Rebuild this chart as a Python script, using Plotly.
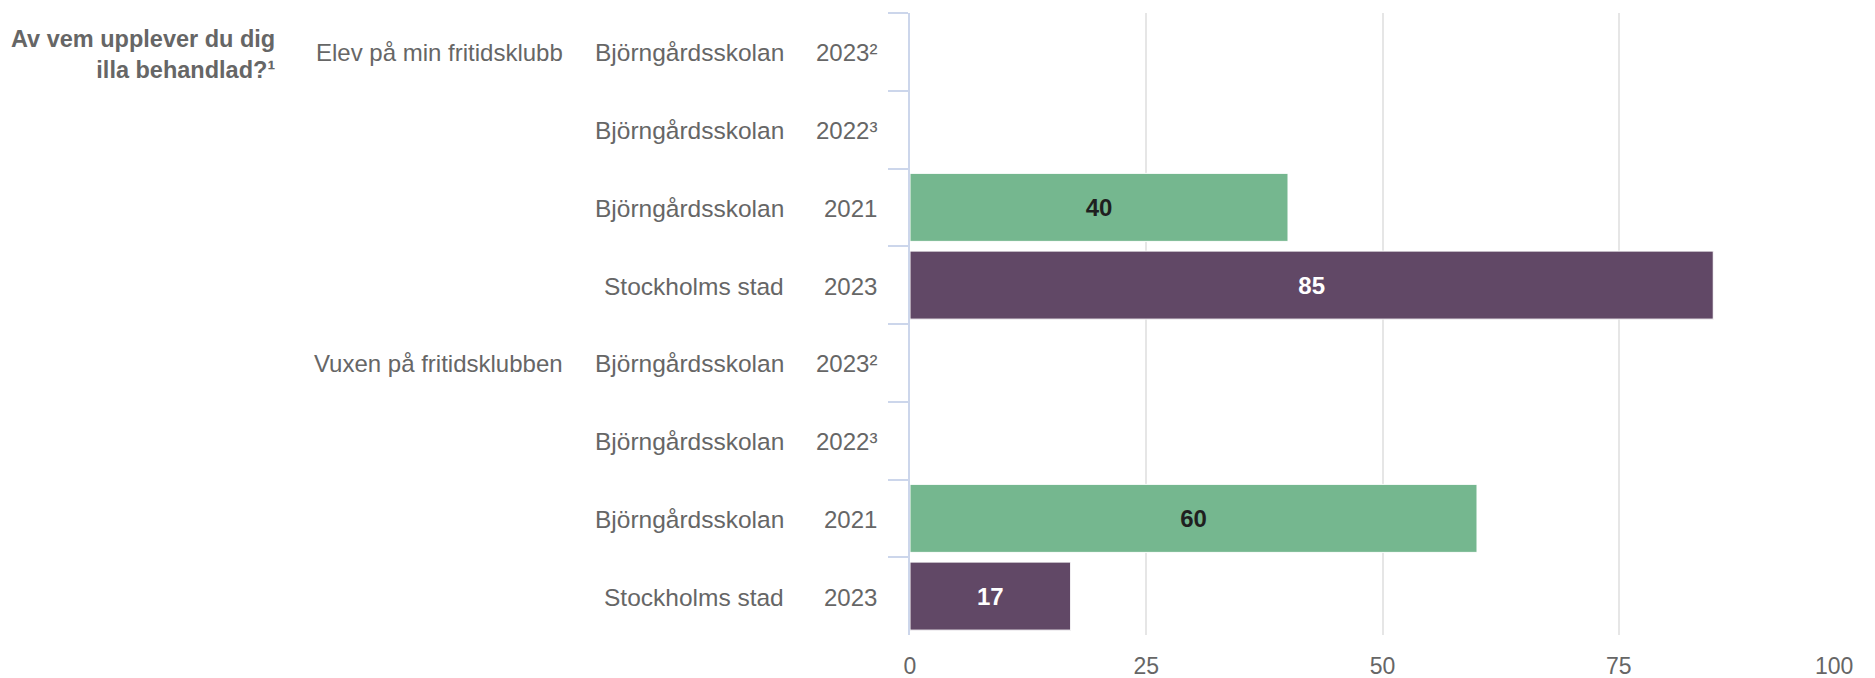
import plotly.graph_objects as go

# ---- data ----
question = "Av vem upplever du dig<br>illa behandlad?¹"
groups = ["Elev på min fritidsklubb", "Vuxen på fritidsklubben"]
units = ["Björngårdsskolan", "Björngårdsskolan", "Björngårdsskolan", "Stockholms stad"]
years = ["2023²", "2022³", "2021", "2023"]
values_elev = [None, None, 40, 85]
values_vuxen = [None, None, 60, 17]
x_ticks = [0, 25, 50, 75, 100]

GREEN = "#75b78f"
PURPLE = "#614866"
unit_colors = {"Björngårdsskolan": GREEN, "Stockholms stad": PURPLE}
text_colors = {"Björngårdsskolan": "#1f1f1f", "Stockholms stad": "#ffffff"}
LABEL = "#666666"
FONT = "Liberation Sans, Arial, Helvetica, sans-serif"

cats, vals, cols, tcols, rows = [], [], [], [], []
for g, gvals in zip(groups, [values_elev, values_vuxen]):
    for u, yr, v in zip(units, years, gvals):
        key = f"{g}|{u}|{yr}"
        cats.append(key)
        vals.append(v)
        cols.append(unit_colors[u])
        tcols.append(text_colors[u])
        rows.append((g, u, yr))

fig = go.Figure()
fig.add_trace(go.Bar(
    y=cats, x=vals, orientation="h",
    marker=dict(color=cols, line=dict(color="#ffffff", width=1)),
    text=[("" if v is None else str(v)) for v in vals],
    textposition="inside", insidetextanchor="middle",
    textfont=dict(color=tcols, size=24, family=FONT, weight="bold"),
    hoverinfo="skip", showlegend=False,
))

ann = []
seen_groups = set()
for i, (g, u, yr) in enumerate(rows):
    key = cats[i]
    ann.append(dict(x=0, xref="paper", y=key, yref="y", text=yr, showarrow=False,
                    xanchor="right", yanchor="middle", xshift=-31, yshift=-1,
                    font=dict(size=24, color=LABEL, family=FONT)))
    ann.append(dict(x=0, xref="paper", y=key, yref="y", text=u, showarrow=False,
                    xanchor="right", yanchor="middle", xshift=-124, yshift=-1,
                    font=dict(size=24.5, color=LABEL, family=FONT)))
    if g not in seen_groups:
        seen_groups.add(g)
        ann.append(dict(x=0, xref="paper", y=key, yref="y", text=g, showarrow=False,
                        xanchor="right", yanchor="middle", xshift=-345, yshift=-1,
                        font=dict(size=24, color=LABEL, family=FONT)))
ann.append(dict(x=0, xref="paper", y=cats[0], yref="y", text=question, showarrow=False,
                xanchor="right", yanchor="middle", align="right", xshift=-633, yshift=-3,
                font=dict(size=23.5, color=LABEL, family=FONT, weight="bold")))
# last x tick label, kept inside the chart edge
ann.append(dict(x=x_ticks[-1], xref="x", y=0, yref="paper", text=str(x_ticks[-1]),
                showarrow=False, xanchor="right", yanchor="middle", yshift=-31,
                font=dict(size=23, color=LABEL, family=FONT)))

fig.update_layout(
    width=1875, height=678,
    margin=dict(l=910, r=20, t=13, b=43, autoexpand=False),
    paper_bgcolor="white", plot_bgcolor="white",
    bargap=0.125,
    font=dict(family=FONT, color=LABEL),
    annotations=ann,
    xaxis=dict(range=[0, 100], tickvals=x_ticks,
               ticktext=[str(t) for t in x_ticks[:-1]] + [""],
               showgrid=True, gridcolor="#e6e6e6", gridwidth=2,
               zeroline=False, showline=False, ticks="", automargin=False,
               ticklabelstandoff=15,
               tickfont=dict(size=23, color=LABEL, family=FONT)),
    yaxis=dict(categoryorder="array", categoryarray=cats, autorange="reversed",
               showticklabels=False, ticks="outside", tickson="boundaries",
               ticklen=20, tickwidth=2, tickcolor="#ccd6eb", automargin=False,
               showline=True, linecolor="#ccd6eb", linewidth=2,
               showgrid=False, zeroline=False),
)

fig.write_html("out.html", config={"displayModeBar": False},
               post_script="document.body.style.margin='0';document.body.style.overflow='hidden';")
